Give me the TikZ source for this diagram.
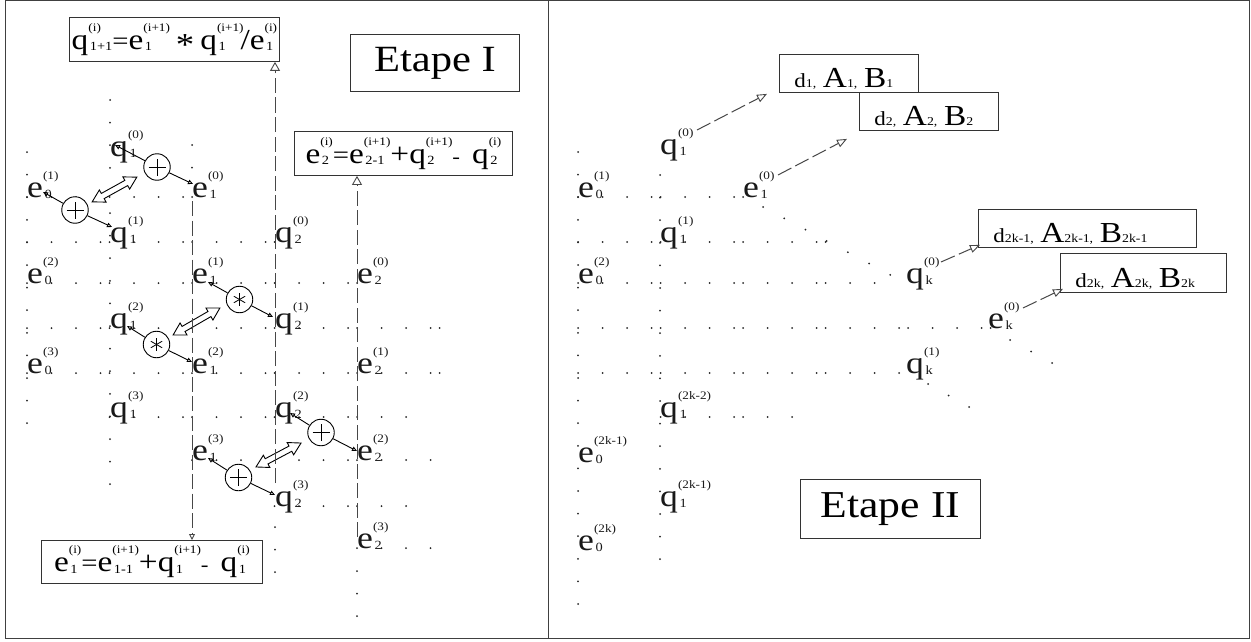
\documentclass[tikz,border=0pt]{standalone}
\usepackage{fontspec}
\setmainfont[FakeStretch=1.15]{Liberation Serif}
\usetikzlibrary{arrows.meta,shapes.arrows}
\newlength\mydim
\newcommand\SupSub[2]{%
  \setbox0=\hbox{\fontsize{11.5}{11.5}\selectfont(#2)}%
  \setbox2=\hbox{\kern1.5pt\fontsize{12.5}{12.5}\selectfont #1}%
  \ifdim\wd0>\wd2 \mydim=\wd0 \else \mydim=\wd2 \fi
  \makebox[\mydim][l]{\rlap{\raisebox{18pt}{\box0}}\raisebox{-1.5pt}{\box2}}}
\newcommand\SL[3]{#1\SupSub{#2}{#3}}
\newcommand\dsub[1]{{\fontsize{12}{12}\selectfont #1}}
\newcommand\bigL[1]{{\fontsize{29}{29}\selectfont #1}}
\newcommand\hrow[4]{%
  \foreach \j in {#3,...,7}{%
    \foreach \k in {0,1,2,3}{%
      \pgfmathsetmacro\xx{#1+82.5*\j+24.5*\k}%
      \pgfmathtruncatemacro\ok{\xx<=#4+0.5 ? 1 : 0}%
      \ifnum\ok=1 \fill[dotc] (\xx,#2) circle (1pt);\fi
    }}}
\newcommand\vcol[3]{%
  \pgfmathsetmacro\ysec{#2+22.6}%
  \foreach \yy in {#2,\ysec,...,#3}{\fill[dotc] (#1,\yy) circle (1pt);}}
\begin{document}
\begin{tikzpicture}[x=1pt,y=-1pt,
  dotc/.style={fill=black!85},
  lab/.style={anchor=base west, inner sep=0pt, font=\fontsize{31}{31}\selectfont, text=black!90},
  fbox/.style={draw=black!80, line width=0.9pt, inner xsep=1pt, inner ysep=0pt, anchor=north west, font=\fontsize{29}{29}\selectfont},
  tbox/.style={draw=black!80, line width=0.9pt, inner sep=0pt, anchor=north west, font=\fontsize{37}{37}\selectfont},
  dbox/.style={draw=black!80, line width=0.9pt, inner xsep=15pt, inner ysep=0pt, anchor=north west, align=left, text height=33pt, text depth=5pt, font=\fontsize{20}{20}\selectfont},
  oplus/.style={circle, draw, fill=white, minimum size=26.5pt, inner sep=0pt, line width=0.9pt,
    path picture={\draw[line width=1pt] ([xshift=-8.5pt]path picture bounding box.center) -- ([xshift=8.5pt]path picture bounding box.center)
      ([yshift=-8.5pt]path picture bounding box.center) -- ([yshift=8.5pt]path picture bounding box.center);}},
  opstar/.style={circle, draw, fill=white, minimum size=26.5pt, inner sep=0pt, line width=0.9pt,
    path picture={\foreach \a in {90,30,150}{\draw[line width=0.8pt] ([shift={(\a:6.5pt)}]path picture bounding box.center) -- ([shift={(\a+180:6.5pt)}]path picture bounding box.center);}}},
  dblarrow/.style={double arrow, draw, fill=white, line width=0.9pt, inner xsep=0pt, inner ysep=2.5pt,
    double arrow head extend=4pt, double arrow tip angle=60},
  oparrow/.style={draw=black, line width=0.9pt, -{Triangle[open,length=5pt,width=4.5pt]}},
  dashl/.style={draw=black!72, line width=1pt, dash pattern=on 15pt off 4.5pt},
  bigtip/.style={-{Triangle[open,length=9pt,width=10pt,line width=0.9pt]}},
  smalltip/.style={-{Triangle[open,length=6pt,width=6pt,line width=0.9pt]}},
  rtip/.style={-{Triangle[open,length=10pt,width=8pt,line width=0.9pt]}},
  frame/.style={draw=black!75, line width=1pt}
]
\fill[white] (0,0) rectangle (1251,642);
\useasboundingbox (0,0) rectangle (1251,642);
\draw[frame] (5,1) rectangle (1249,638);
\draw[frame] (548,1) -- (548,638);

% ---------- dots, left panel
\hrow{27}{197}{0}{192}
\hrow{27}{242}{0}{275}
\hrow{27}{283}{0}{357}
\hrow{27}{328}{0}{440}
\hrow{27}{373}{0}{440}
\hrow{27}{417}{1}{425}
\hrow{27}{460}{2}{437}
\hrow{27}{506}{3}{425}
\hrow{27}{548}{4}{432}
\vcol{27}{152}{443}
\vcol{110}{100}{488}
\vcol{192}{145}{170}
\vcol{275}{527}{576}
\vcol{357}{571}{620}

% ---------- dots, right panel
\hrow{578}{197}{0}{743}
\hrow{578}{242}{0}{827}
\hrow{578}{283}{0}{890}
\hrow{578}{328}{0}{990}
\hrow{578}{373}{0}{906}
\hrow{578}{417}{1}{805}
\vcol{578}{152}{621}
\vcol{660}{175}{578}
\foreach \i in {0,...,6}{\fill[dotc] (763+21.2*\i,207+11.3*\i) circle (1pt);}
\foreach \i in {0,...,2}{\fill[dotc] (1010+21*\i,340+11.5*\i) circle (1pt);}
\foreach \i in {0,...,2}{\fill[dotc] (928+20.5*\i,384+11.5*\i) circle (1pt);}

% ---------- left labels
\node[lab] (q10) at (110,156) {\SL{q}{1}{0}};
\node[lab] (e01) at (27,197) {\SL{e}{0}{1}};
\node[lab] (e10) at (192,197) {\SL{e}{1}{0}};
\node[lab] (q11) at (110,242) {\SL{q}{1}{1}};
\node[lab] (q20) at (275,242) {\SL{q}{2}{0}};
\node[lab] (e02) at (27,283) {\SL{e}{0}{2}};
\node[lab] (e11) at (192,283) {\SL{e}{1}{1}};
\node[lab] (e20) at (357,283) {\SL{e}{2}{0}};
\node[lab] (q12) at (110,328) {\SL{q}{1}{2}};
\node[lab] (q21) at (275,328) {\SL{q}{2}{1}};
\node[lab] (e03) at (27,373) {\SL{e}{0}{3}};
\node[lab] (e12) at (192,373) {\SL{e}{1}{2}};
\node[lab] (e21) at (357,373) {\SL{e}{2}{1}};
\node[lab] (q13) at (110,417) {\SL{q}{1}{3}};
\node[lab] (q22) at (275,417) {\SL{q}{2}{2}};
\node[lab] (e13) at (192,460) {\SL{e}{1}{3}};
\node[lab] (e22) at (357,460) {\SL{e}{2}{2}};
\node[lab] (q23) at (275,506) {\SL{q}{2}{3}};
\node[lab] (e23) at (357,548) {\SL{e}{2}{3}};

% ---------- left boxes
\node[fbox, minimum width=210, minimum height=44] (boxT) at (69,17)
  {\SL{q}{1+1}{i}{\fontsize{25}{25}\selectfont=}\SL{e}{1}{i+1}\hspace{6pt}\raisebox{-6pt}{\fontsize{32}{32}\selectfont *}\hspace{6pt}\SL{q}{1}{i+1}\kern-3pt/\SL{e}{1}{i}};
\node[tbox, minimum width=169, minimum height=57] (et1) at (350,34) {Etape I};
\node[fbox, minimum width=218, minimum height=44] (boxE) at (294,131)
  {\SL{e}{2}{i}{\fontsize{25}{25}\selectfont=}\SL{e}{2-1}{i+1}+\SL{q}{2}{i+1}{\fontsize{20}{20}\selectfont -}\hspace{12pt}\SL{q}{2}{i}};
\node[fbox, minimum width=221, minimum height=43] (boxB) at (41,540)
  {\SL{e}{1}{i}{\fontsize{25}{25}\selectfont=}\SL{e}{1-1}{i+1}+\SL{q}{1}{i+1}{\fontsize{20}{20}\selectfont -}\hspace{12pt}\SL{q}{1}{i}};

% ---------- operators
\node[oplus] (opA) at (157,167) {};
\node[oplus] (opB) at (75,210) {};
\node[opstar] (opC) at (239.5,299.5) {};
\node[opstar] (opD) at (156.5,344.5) {};
\node[oplus] (opE) at (321,432.5) {};
\node[oplus] (opF) at (238.5,477.5) {};
\node[dblarrow, minimum height=51pt, rotate=29] (dAB) at (114.5,189.5) {};
\node[dblarrow, minimum height=54pt, rotate=30] (dCD) at (196.5,321.5) {};
\node[dblarrow, minimum height=51pt, rotate=28] (dEF) at (278.5,455) {};

\draw[oparrow] (opA) -- ([shift={(5,-11)}]q10.base west);
\draw[oparrow] (opA) -- ([shift={(1,-13)}]e10.base west);
\draw[oparrow] (opB) -- ([shift={(16,-5)}]e01.base west);
\draw[oparrow] (opB) -- ([shift={(2,-15)}]q11.base west);
\draw[oparrow] (opC) -- ([shift={(16,-1)}]e11.base west);
\draw[oparrow] (opC) -- ([shift={(-2,-11)}]q21.base west);
\draw[oparrow] (opD) -- ([shift={(17,-2)}]q12.base west);
\draw[oparrow] (opD) -- ([shift={(0,-11)}]e12.base west);
\draw[oparrow] (opE) -- ([shift={(15,-4)}]q22.base west);
\draw[oparrow] (opE) -- ([shift={(0,-9)}]e22.base west);
\draw[oparrow] (opF) -- ([shift={(16,-2)}]e13.base west);
\draw[oparrow] (opF) -- ([shift={(0,-11)}]q23.base west);

% ---------- dashed connectors, left
\draw[dashl, smalltip] ([yshift=-4pt]e10.base west) -- (e10.base west |- boxB.north);
\draw[dashl, bigtip] ([shift={(0,-23)}]q23.base west) -- (q23.base west |- boxT.south);
\draw[dashl, bigtip] ([shift={(0,-11)}]e23.base west) -- (e23.base west |- boxE.south);

% ---------- right labels
\node[lab] (rq10) at (660,154) {\SL{q}{1}{0}};
\node[lab] (re01) at (578,197) {\SL{e}{0}{1}};
\node[lab] (re10) at (743,197) {\SL{e}{1}{0}};
\node[lab] (rq11) at (660,242) {\SL{q}{1}{1}};
\node[lab] (re02) at (578,283) {\SL{e}{0}{2}};
\node[lab] (rqk0) at (906,283) {\SL{q}{k}{0}};
\node[lab] (rek0) at (988,328) {\SL{e}{k}{0}};
\node[lab] (rqk1) at (906,373) {\SL{q}{k}{1}};
\node[lab] (rq1a) at (660,417) {\SL{q}{1}{2k-2}};
\node[lab] (re0a) at (578,462) {\SL{e}{0}{2k-1}};
\node[lab] (rq1b) at (660,506) {\SL{q}{1}{2k-1}};
\node[lab] (re0b) at (578,550) {\SL{e}{0}{2k}};

% ---------- right boxes
\node[dbox, text width=109pt] (d1) at (779,54) {d\dsub{1,} \bigL{A}\dsub{1,} \bigL{B}\dsub{1}};
\node[dbox, text width=109pt] (d2) at (859,92) {d\dsub{2,} \bigL{A}\dsub{2,} \bigL{B}\dsub{2}};
\node[dbox, text width=188pt] (dk1) at (978,209) {d\dsub{2k-1,} \bigL{A}\dsub{2k-1,} \bigL{B}\dsub{2k-1}};
\node[dbox, text width=136pt, text height=34pt] (dk) at (1060,253) {d\dsub{2k,} \bigL{A}\dsub{2k,} \bigL{B}\dsub{2k}};
\node[tbox, minimum width=180, minimum height=59, font=\fontsize{38}{38}\selectfont] (et2) at (800,479) {Etape II};

% ---------- dashed connectors, right
\draw[dashl, rtip] ([shift={(37,-24)}]rq10.base west) -- ([shift={(-12,1)}]d1.south west);
\draw[dashl, rtip] ([shift={(35,-22)}]re10.base west) -- ([shift={(-12,8)}]d2.south west);
\draw[dashl, rtip] ([shift={(35,-21)}]rqk0.base west) -- ([shift={(2,-3)}]dk1.south west);
\draw[dashl, rtip] ([shift={(35,-20)}]rek0.base west) -- ([shift={(3,-4)}]dk.south west);
\end{tikzpicture}
\end{document}
